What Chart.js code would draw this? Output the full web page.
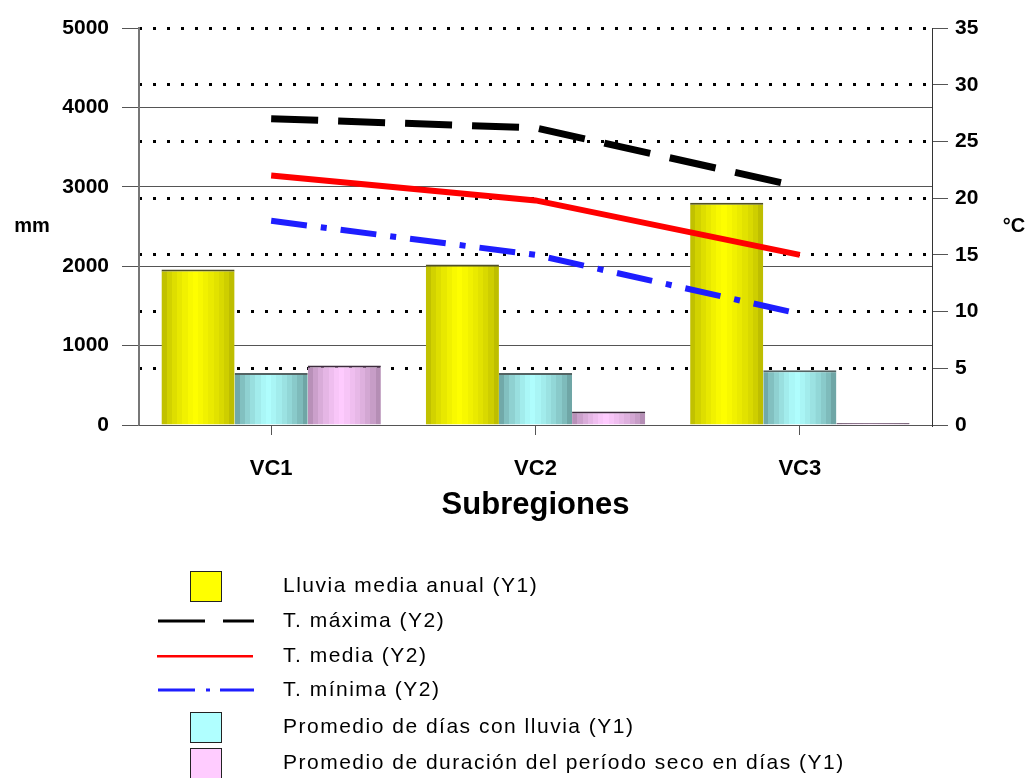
<!DOCTYPE html>
<html>
<head>
<meta charset="utf-8">
<script src="https://cdn.jsdelivr.net/npm/chart.js@4"></script>
<style>
  html, body { margin: 0; padding: 0; background: #fff; }
  #wrap { width: 1028px; height: 778px; position: relative; }
</style>
</head>
<body>
<div id="wrap"><canvas id="c" width="1028" height="778"></canvas></div>
<script>
// ---- data ----
const categories = ['VC1', 'VC2', 'VC3'];
const lluviaMedia = [1960, 2020, 2800];
const diasLluvia = [655, 655, 690];
const periodoSeco = [750, 170, 25];
const tMaxima = [27, 26.2, 21];
const tMedia = [22, 19.8, 15];
const tMinima = [18, 15, 9.8];
const y1Ticks = [0, 1000, 2000, 3000, 4000, 5000];
const y2Ticks = [0, 5, 10, 15, 20, 25, 30, 35];
const legendLabels = [
  'Lluvia media anual (Y1)',
  'T. máxima (Y2)',
  'T. media (Y2)',
  'T. mínima (Y2)',
  'Promedio de días con lluvia (Y1)',
  'Promedio de duración del período seco en días (Y1)'
];

const FONT = "'Liberation Sans', Arial, sans-serif";
Chart.defaults.font.family = FONT;
Chart.defaults.color = '#000';

const barPalettes = [
  { edge: [172, 172, 0], center: [255, 255, 0] },
  { edge: [92, 140, 140], center: [176, 255, 255] },
  { edge: [160, 124, 160], center: [255, 204, 255] }
];

function stripedGradient(ctx, x0, x1, pal) {
  const g = ctx.createLinearGradient(x0, 0, x1, 0);
  const N = 14, c = 0.45;
  for (let i = 0; i < N; i++) {
    const t = (i + 0.5) / N;
    let f = t < c ? t / c : (1 - t) / (1 - c);
    f = Math.pow(Math.max(0, Math.min(1, f)), 0.55);
    const col = pal.edge.map((e, k) => Math.round(e + (pal.center[k] - e) * f));
    const s = 'rgb(' + col.join(',') + ')';
    g.addColorStop(i / N, s);
    g.addColorStop(Math.min(1, (i + 1) / N - 0.0001), s);
  }
  return g;
}

const barShading = {
  id: 'barShading',
  beforeDatasetsDraw(chart) {
    const ctx = chart.ctx;
    chart.data.datasets.forEach((ds, di) => {
      if (ds.type !== 'bar') return;
      const meta = chart.getDatasetMeta(di);
      meta.data.forEach(el => {
        const x0 = el.x - el.width / 2, x1 = el.x + el.width / 2;
        const grad = stripedGradient(ctx, x0, x1, barPalettes[ds.paletteIndex]);
        const o = Object.assign({}, el.options);
        o.backgroundColor = grad;
        el.options = o;
      });
    });
  }
};

const extras = {
  id: 'extras',
  afterDraw(chart) {
    const ctx = chart.ctx;
    const area = chart.chartArea;
    const y = chart.scales.y;
    ctx.save();
    ctx.strokeStyle = '#555';
    ctx.lineWidth = 1;
    const y0 = Math.round(y.getPixelForValue(0)) + 0.5;
    ctx.beginPath(); ctx.moveTo(area.left, y0); ctx.lineTo(area.right, y0); ctx.stroke();

    ctx.fillStyle = '#000';
    ctx.font = 'bold 20px ' + FONT;
    ctx.textBaseline = 'middle';
    ctx.textAlign = 'center';
    ctx.fillText('mm', 32, 226);
    ctx.fillText('°C', 1014, 226);

    const rows = [586, 621, 656, 690, 727, 763];
    const kinds = ['box0', 'black', 'red', 'blue', 'box1', 'box2'];
    const boxFill = { box0: '#FFFF00', box1: '#B0FFFF', box2: '#FFCCFF' };
    rows.forEach((ry, i) => {
      const k = kinds[i];
      if (k.startsWith('box')) {
        ctx.fillStyle = boxFill[k];
        ctx.fillRect(190, ry - 15, 32, 31);
        ctx.strokeStyle = '#222';
        ctx.lineWidth = 1;
        ctx.strokeRect(190.5, ry - 14.5, 31, 30);
      } else if (k === 'black') {
        ctx.fillStyle = '#000';
        ctx.fillRect(158, ry - 1.5, 47, 3);
        ctx.fillRect(223, ry - 1.5, 31, 3);
      } else if (k === 'red') {
        ctx.fillStyle = '#FF0000';
        ctx.fillRect(157, ry - 1, 96, 2.5);
      } else {
        ctx.fillStyle = '#1E1EFF';
        ctx.fillRect(158, ry - 1.5, 37, 3);
        ctx.fillRect(206, ry - 1.5, 4, 3);
        ctx.fillRect(220, ry - 1.5, 34, 3);
      }
      ctx.fillStyle = '#000';
      ctx.font = '21px ' + FONT;
      ctx.textAlign = 'left';
      ctx.textBaseline = 'middle';
      try { ctx.letterSpacing = '1.5px'; } catch (e) {}
      ctx.fillText(legendLabels[i], 283, ry);
      try { ctx.letterSpacing = '0px'; } catch (e) {}
    });
    ctx.restore();
  }
};

const plainNum = v => String(v);

new Chart(document.getElementById('c'), {
  type: 'bar',
  data: {
    labels: categories,
    datasets: [
      { type: 'line', label: legendLabels[1], data: tMaxima, yAxisID: 'y2', borderColor: '#000', borderWidth: 7, borderDash: [47, 20], pointRadius: 0, fill: false, tension: 0, order: 0, borderCapStyle: 'butt' },
      { type: 'line', label: legendLabels[2], data: tMedia, yAxisID: 'y2', borderColor: '#FF0000', borderWidth: 6, pointRadius: 0, fill: false, tension: 0, order: 0 },
      { type: 'line', label: legendLabels[3], data: tMinima, yAxisID: 'y2', borderColor: '#1E1EFF', borderWidth: 6, borderDash: [36, 14, 6, 14], pointRadius: 0, fill: false, tension: 0, order: 0, borderCapStyle: 'butt' },
      { type: 'bar', label: legendLabels[0], data: lluviaMedia, yAxisID: 'y', paletteIndex: 0, backgroundColor: '#FFFF00', borderColor: 'rgba(50,50,0,0.85)', borderWidth: { top: 2, left: 0, right: 0, bottom: 0 }, borderSkipped: false, order: 1 },
      { type: 'bar', label: legendLabels[4], data: diasLluvia, yAxisID: 'y', paletteIndex: 1, backgroundColor: '#B0FFFF', borderColor: 'rgba(40,60,60,0.8)', borderWidth: { top: 2, left: 0, right: 0, bottom: 0 }, borderSkipped: false, order: 1 },
      { type: 'bar', label: legendLabels[5], data: periodoSeco, yAxisID: 'y', paletteIndex: 2, backgroundColor: '#FFCCFF', borderColor: 'rgba(40,20,40,0.9)', borderWidth: { top: 2, left: 0, right: 0, bottom: 0 }, borderSkipped: false, order: 1 }
    ]
  },
  options: {
    responsive: false,
    animation: false,
    events: [],
    layout: { padding: { top: 28, left: 0, right: 0, bottom: 253 } },
    datasets: { bar: { categoryPercentage: 0.83, barPercentage: 1.0 } },
    plugins: { legend: { display: false }, tooltip: { enabled: false } },
    scales: {
      x: {
        offset: true,
        grid: { offset: false, drawOnChartArea: false, drawTicks: true, tickLength: 10, color: '#555', tickColor: '#555' },
        border: { display: true, color: '#555', width: 1 },
        ticks: { font: { size: 22, weight: 'bold' }, padding: 21, color: '#000' },
        title: { display: true, text: 'Subregiones', font: { size: 31, weight: 'bold' }, padding: { top: 0, bottom: 1 }, color: '#000' },
        afterFit(s) { s.height = 100; }
      },
      y: {
        position: 'left',
        min: 0, max: 5000,
        afterBuildTicks(s) { s.ticks = y1Ticks.map(v => ({ value: v })); },
        grid: {
          color: ctx => (ctx.tick && ctx.tick.value === 5000) ? 'rgba(0,0,0,0)' : '#555',
          tickColor: '#555', tickWidth: 1, lineWidth: 1, tickLength: 17
        },
        border: { display: true, color: '#777', width: 2 },
        ticks: { font: { size: 21, weight: 'bold' }, padding: 13, color: '#000', callback: plainNum },
        afterFit(s) { s.width = 139; }
      },
      y2: {
        position: 'right',
        min: 0, max: 35,
        afterBuildTicks(s) { s.ticks = y2Ticks.map(v => ({ value: v })); },
        grid: {
          drawOnChartArea: true,
          color: ctx => (ctx.tick && ctx.tick.value === 0) ? 'rgba(0,0,0,0)' : '#000',
          lineWidth: 3, tickColor: '#555', tickWidth: 1, tickLength: 16, tickBorderDash: []
        },
        border: { display: true, color: '#333', width: 1, dash: [3, 11] },
        ticks: { font: { size: 21, weight: 'bold' }, padding: 7, color: '#000', callback: plainNum },
        afterFit(s) { s.width = 96; }
      }
    }
  },
  plugins: [barShading, extras]
});
</script>
</body>
</html>
